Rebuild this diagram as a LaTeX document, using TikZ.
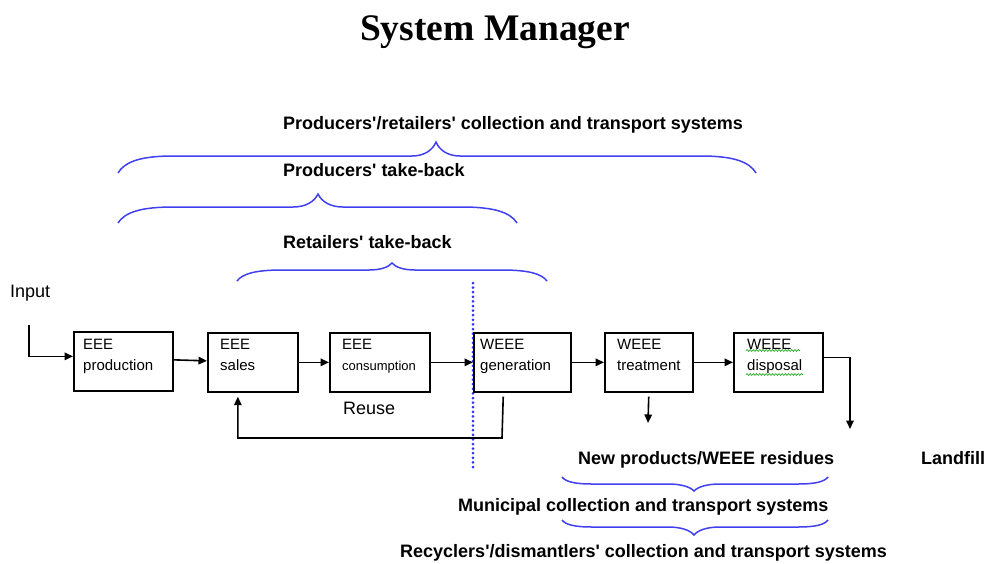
\documentclass[tikz,border=0pt]{standalone}
\usepackage{fontspec}
\setmainfont{Liberation Serif}
\newfontfamily\arial{Liberation Sans}
\usetikzlibrary{arrows.meta,decorations.pathmorphing}
\definecolor{brblue}{RGB}{64,64,240}
\definecolor{dotblue}{RGB}{50,50,255}
\definecolor{squig}{RGB}{40,170,40}
% brace: xl xr xt yl ye yt r s  (image coordinates, y down)
\newcommand{\wbrace}[8]{%
  \draw[brc] (#1,{-(#5)})
    .. controls ({#1+0.12*#7},{-(#5-0.65*(#5-#4))}) and ({#1+0.4*#7},{-(#4)}) .. ({#1+#7},{-(#4)})
    -- ({#3-#8},{-(#4)})
    .. controls ({#3-0.5*#8},{-(#4)}) and ({#3-0.15*#8},{-(#4-0.4*(#4-#6))}) .. (#3,{-(#6)})
    .. controls ({#3+0.15*#8},{-(#4-0.4*(#4-#6))}) and ({#3+0.5*#8},{-(#4)}) .. ({#3+#8},{-(#4)})
    -- ({#2-#7},{-(#4)})
    .. controls ({#2-0.4*#7},{-(#4)}) and ({#2-0.12*#7},{-(#5-0.65*(#5-#4))}) .. (#2,{-(#5)});}
\begin{document}
\begin{tikzpicture}[x=1pt,y=1pt,
  box/.style={draw=black,line width=1.7pt,minimum width=#1,minimum height=59pt,inner sep=0pt,anchor=north west},
  btext/.style={anchor=north west,inner sep=0pt,align=left,font=\arial\fontsize{15}{21}\selectfont},
  lab/.style={anchor=base west,inner sep=0pt,font=\arial\bfseries\fontsize{18}{20}\selectfont},
  plain/.style={anchor=base west,inner sep=0pt,font=\arial\fontsize{18}{20}\selectfont},
  arr/.style={line width=1.6pt,-{Triangle[length=8.5pt,width=7.5pt]}},
  brc/.style={draw=brblue,line width=1.5pt},
  squiggle/.style={draw=squig,line width=0.7pt,decorate,decoration={snake,segment length=3.2pt,amplitude=0.9pt}}]
\useasboundingbox (0,0) rectangle (991,-563);
% title
\node[anchor=base,inner sep=0pt,font=\bfseries\fontsize{37.5}{40}\selectfont] (title) at (495,-40.7) {System Manager};
% labels above
\node[lab] (l1) at (283,-129) {Producers'/retailers' collection and transport systems};
\node[lab] (l2) at (283,-176) {Producers' take-back};
\node[lab] (l3) at (283,-248) {Retailers' take-back};
% braces
\wbrace{118}{756}{436}{156}{173}{142}{55}{24}
\wbrace{118}{517}{318}{207}{223}{194}{55}{25}
\wbrace{237}{547}{392}{270}{281}{263}{45}{23}
\wbrace{562}{828}{694}{484}{477}{491}{30}{26}
\wbrace{562}{828}{694}{527}{520}{535}{30}{26}
% dotted divider
\coordinate (dtop) at (473,-283);
\coordinate (dbot) at (473,-471);
\draw[dotblue,line width=3pt,line cap=round,dash pattern=on 0pt off 4.6pt] (dtop) -- (dbot);
% input
\node[plain] (input) at (10,-297) {Input};
\coordinate (in1) at (29,-325);
% boxes
\node[box=99pt] (b1) at (73,-331) {};
\node[box=90pt] (b2) at (207,-332) {};
\node[box=100pt] (b3) at (329,-332) {};
\node[box=97pt] (b4) at (473,-332) {};
\node[box=88pt] (b5) at (604,-332) {};
\node[box=89pt] (b6) at (733,-332) {};
% box texts
\node[btext] (t1) at (83,-339.3) {EEE\\production};
\node[btext] (t2) at (220,-339.3) {EEE\\sales};
\node[btext] (t3) at (342,-339.3) {EEE\\{\fontsize{13}{21}\selectfont consumption}};
\node[btext] (t4) at (480,-339.3) {WEEE\\generation};
\node[btext] (t5) at (617,-339.3) {WEEE\\treatment};
\node[btext] (t6) at (747,-339.3) {WEEE\\disposal};
\coordinate (sq1a) at (746,-350.5);
\coordinate (sq1b) at (800,-350.5);
\coordinate (sq2a) at (746,-374.5);
\coordinate (sq2b) at (803,-374.5);
\draw[squiggle] (sq1a) -- (sq1b);
\draw[squiggle] (sq2a) -- (sq2b);
% main flow
\draw[arr] (in1) |- ([yshift=5pt]b1.west);
\draw[arr] ([yshift=1.5pt]b1.east) -- ([yshift=1.5pt]b2.west);
\draw[arr] (b2.east) -- (b3.west);
\draw[arr] (b3.east) -- (b4.west);
\draw[arr] (b4.east) -- (b5.west);
\draw[arr] (b5.east) -- (b6.west);
% reuse loop
\coordinate (rl) at (502,-438);
\draw[arr,shorten <=4pt,shorten >=4pt] ([xshift=-19pt]b4.south) -- (rl) -| ([xshift=-15pt]b2.south);
\node[plain] (reuse) at (343,-414) {Reuse};
% outputs
\coordinate (tr) at (648,-423);
\draw[arr,shorten <=4pt] (b5.south) -- (tr);
\coordinate (ld) at (850,-429);
\draw[arr] ([yshift=5pt]b6.east) -| (ld);
\node[lab] (np) at (578,-464) {New products/WEEE residues};
\node[lab] (lf) at (921,-464) {Landfill};
\node[lab] (mu) at (458,-511) {Municipal collection and transport systems};
\node[lab] (rc) at (400,-557) {Recyclers'/dismantlers' collection and transport systems};
\end{tikzpicture}
\end{document}
